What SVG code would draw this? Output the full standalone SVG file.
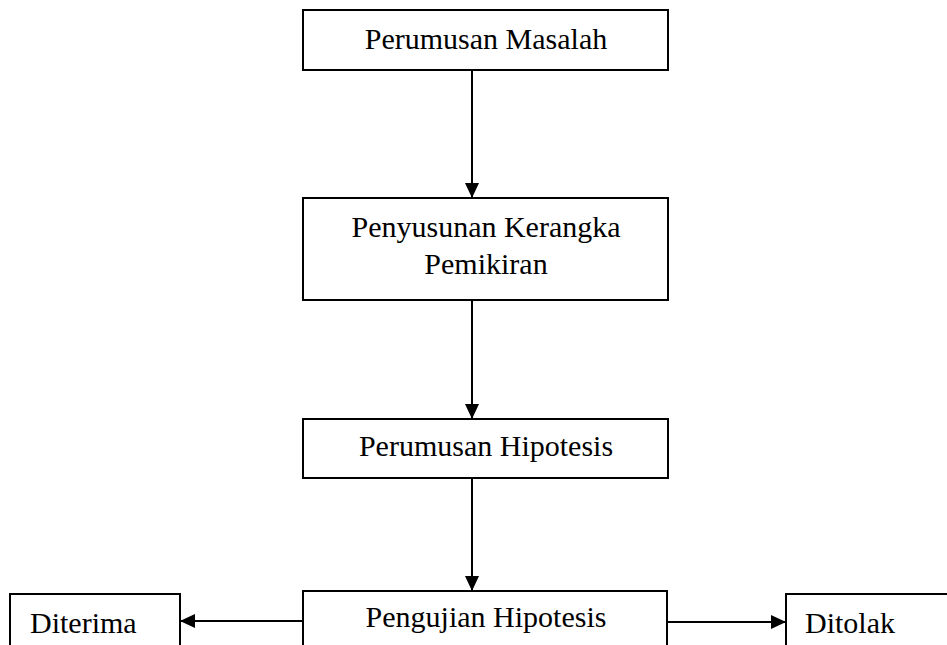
<svg xmlns="http://www.w3.org/2000/svg" width="947" height="645" viewBox="0 0 947 645">
<defs>
<marker id="ah" markerUnits="userSpaceOnUse" markerWidth="15" markerHeight="14" refX="15" refY="7" orient="auto">
<path d="M0,0 L15,7 L0,14 z" fill="#000"/>
</marker>
<style>
.box{fill:#fff;stroke:#000;stroke-width:2}
.t{font-family:"Liberation Serif","Times New Roman",serif;font-size:30px;fill:#000}
.c{text-anchor:middle}
.edge{stroke:#000;stroke-width:2;fill:none;marker-end:url(#ah)}
</style>
</defs>
<rect width="947" height="645" fill="#fff"/>
<g id="connectors">
<line class="edge" x1="472" y1="70" x2="472" y2="198"/>
<line class="edge" x1="472" y1="300" x2="472" y2="419"/>
<line class="edge" x1="472" y1="478" x2="472" y2="591"/>
<line class="edge" x1="303" y1="621" x2="180" y2="621"/>
<line class="edge" x1="667" y1="622" x2="786" y2="622"/>
</g>
<g id="perumusan-masalah">
<rect class="box" x="303" y="10" width="365" height="60"/>
<text class="t c" x="486" y="49">Perumusan Masalah</text>
</g>
<g id="kerangka-pemikiran">
<rect class="box" x="303" y="198" width="365" height="102"/>
<text class="t c" x="486" y="237">Penyusunan Kerangka</text>
<text class="t c" x="486" y="274">Pemikiran</text>
</g>
<g id="perumusan-hipotesis">
<rect class="box" x="303" y="419" width="365" height="59"/>
<text class="t c" x="486" y="456">Perumusan Hipotesis</text>
</g>
<g id="pengujian-hipotesis">
<rect class="box" x="303" y="591" width="364" height="70"/>
<text class="t c" x="486" y="627">Pengujian Hipotesis</text>
</g>
<g id="diterima">
<rect class="box" x="10" y="594" width="170" height="70"/>
<text class="t" x="30" y="633">Diterima</text>
</g>
<g id="ditolak">
<rect class="box" x="786" y="594" width="180" height="70"/>
<text class="t" x="805" y="633">Ditolak</text>
</g>
</svg>
